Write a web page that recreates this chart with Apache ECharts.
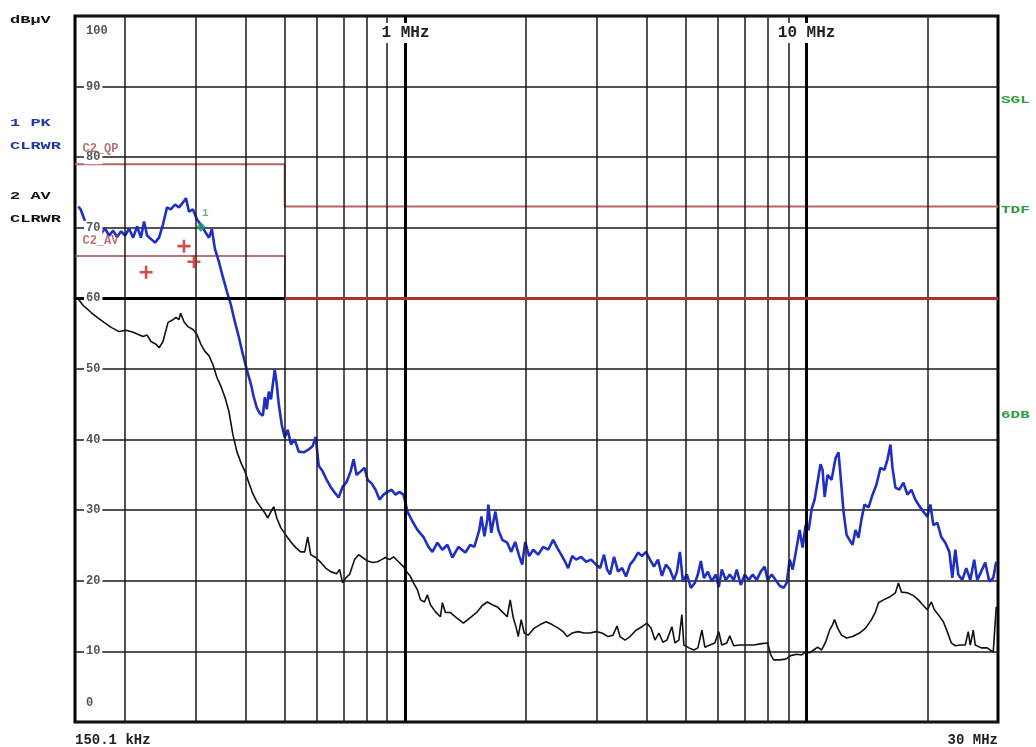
<!DOCTYPE html>
<html>
<head>
<meta charset="utf-8">
<script src="https://cdn.jsdelivr.net/npm/echarts@6/dist/echarts.min.js"></script>
<style>
html,body{margin:0;padding:0;background:#fff;}
#chart{width:1036px;height:747px;}
</style>
</head>
<body>
<div id="chart"></div>
<script>
// ---- data (frequency in MHz, level in dBµV) ----
const peakTrace = [[0.1528,73.0],[0.155,72.6],[0.159,70.9],[0.1627,70.1],[0.1665,69.5],[0.1703,70.4],[0.1743,69.2],[0.1783,69.9],[0.1824,68.9],[0.1867,69.6],[0.191,68.7],[0.1954,69.5],[0.2,68.9],[0.2046,69.9],[0.2094,68.6],[0.2143,70.2],[0.219,68.6],[0.223,70.9],[0.2269,68.9],[0.232,68.4],[0.2375,67.9],[0.243,68.6],[0.2486,70.5],[0.2544,72.9],[0.26,72.6],[0.2664,73.3],[0.2725,72.9],[0.2788,73.6],[0.2836,74.2],[0.2885,72.3],[0.2952,72.6],[0.302,71.2],[0.309,70.4],[0.3162,69.5],[0.3236,68.6],[0.3291,69.8],[0.3349,67.0],[0.3426,65.2],[0.3506,63.0],[0.3587,61.0],[0.367,59.1],[0.3755,56.7],[0.3843,54.5],[0.3931,52.1],[0.4022,49.9],[0.412,47.8],[0.4187,46.0],[0.426,44.5],[0.4334,43.7],[0.441,43.4],[0.4461,46.0],[0.4511,44.3],[0.4563,46.8],[0.462,45.7],[0.4669,47.8],[0.4722,49.9],[0.4777,47.8],[0.4832,45.0],[0.4915,42.1],[0.5,40.3],[0.5087,41.4],[0.518,39.3],[0.5295,40.0],[0.5418,38.3],[0.5576,38.2],[0.5738,38.6],[0.5871,39.1],[0.5972,40.4],[0.6076,36.3],[0.6216,35.5],[0.6361,34.3],[0.6507,33.3],[0.6659,32.5],[0.6812,31.8],[0.697,33.3],[0.7132,34.0],[0.7298,35.5],[0.7423,37.2],[0.7552,35.0],[0.773,35.5],[0.7907,36.0],[0.8045,34.3],[0.823,33.8],[0.8422,32.9],[0.8616,31.5],[0.8816,32.2],[0.902,32.6],[0.923,32.9],[0.9443,32.2],[0.9663,32.6],[0.9886,32.2],[1.0115,29.8],[1.041,28.4],[1.071,27.2],[1.109,26.2],[1.141,24.8],[1.167,24.1],[1.201,25.4],[1.236,24.4],[1.272,25.1],[1.309,23.3],[1.355,24.8],[1.41,24.0],[1.451,25.1],[1.484,24.8],[1.528,27.2],[1.546,29.1],[1.573,26.3],[1.6,28.7],[1.609,30.8],[1.636,26.8],[1.675,29.8],[1.704,27.2],[1.743,25.8],[1.793,25.4],[1.835,24.1],[1.877,25.5],[1.921,23.5],[1.954,22.3],[1.988,25.5],[2.034,23.5],[2.082,24.4],[2.142,23.7],[2.204,24.8],[2.268,24.4],[2.334,25.8],[2.388,24.7],[2.444,23.7],[2.5,22.7],[2.544,21.8],[2.603,23.5],[2.664,23.0],[2.741,23.4],[2.82,22.7],[2.902,23.0],[2.987,22.3],[3.056,21.8],[3.126,23.7],[3.181,21.6],[3.236,20.9],[3.311,23.4],[3.388,21.3],[3.467,21.8],[3.547,20.6],[3.629,22.3],[3.713,23.0],[3.799,24.0],[3.887,23.5],[3.977,24.1],[4.069,23.0],[4.164,22.0],[4.26,23.0],[4.358,20.7],[4.459,22.3],[4.563,21.6],[4.669,20.1],[4.75,21.3],[4.832,24.1],[4.916,19.9],[5.029,20.9],[5.146,19.0],[5.265,19.7],[5.357,20.9],[5.45,22.8],[5.545,20.4],[5.673,21.3],[5.804,19.9],[5.937,20.9],[6.04,19.1],[6.145,21.6],[6.287,20.1],[6.434,20.9],[6.582,20.1],[6.697,21.6],[6.852,19.4],[7.011,20.9],[7.172,20.1],[7.339,20.9],[7.508,20.1],[7.683,21.3],[7.86,22.0],[7.998,20.1],[8.183,20.9],[8.373,20.1],[8.567,19.3],[8.766,19.0],[8.918,19.7],[9.074,23.0],[9.23,21.6],[9.443,24.7],[9.608,27.2],[9.772,24.7],[9.943,27.9],[10.12,27.2],[10.29,30.1],[10.47,31.5],[10.65,34.0],[10.83,36.5],[10.96,35.7],[11.09,31.9],[11.28,35.0],[11.54,34.3],[11.81,37.4],[12.01,38.2],[12.22,33.2],[12.36,29.8],[12.58,26.5],[12.79,25.8],[13.02,25.1],[13.24,27.2],[13.47,26.1],[13.7,28.7],[13.94,30.8],[14.27,30.4],[14.6,32.2],[14.93,33.6],[15.28,36.0],[15.63,35.7],[15.91,37.2],[16.18,39.3],[16.37,36.0],[16.65,33.2],[17.03,32.9],[17.43,33.9],[17.83,32.2],[18.25,32.9],[18.67,31.5],[19.1,30.6],[19.54,29.8],[20.0,29.1],[20.35,30.8],[20.7,27.9],[21.18,28.2],[21.67,26.2],[22.17,25.4],[22.69,24.1],[23.08,20.4],[23.48,24.4],[23.88,20.9],[24.43,20.1],[25.0,21.8],[25.59,20.1],[26.17,23.0],[26.63,20.1],[27.24,21.3],[27.88,22.6],[28.53,19.9],[29.19,20.4],[29.7,22.7]];

const averageTrace = [[0.1528,59.9],[0.1572,59.0],[0.1646,58.0],[0.1713,57.2],[0.1773,56.6],[0.1846,55.9],[0.1932,55.3],[0.2012,55.5],[0.2094,55.2],[0.2217,54.6],[0.2269,54.8],[0.232,53.9],[0.2388,53.5],[0.243,53.0],[0.2486,53.9],[0.2559,56.6],[0.2618,56.9],[0.2679,57.3],[0.2725,57.0],[0.275,57.9],[0.2804,56.7],[0.2869,56.0],[0.2952,55.6],[0.302,54.9],[0.309,53.5],[0.3162,52.5],[0.3236,51.9],[0.3311,50.6],[0.3388,48.8],[0.347,47.5],[0.3547,46.0],[0.3629,44.0],[0.3713,40.7],[0.3799,38.3],[0.389,36.7],[0.3977,35.5],[0.4069,33.9],[0.4164,32.3],[0.426,31.2],[0.436,30.4],[0.4461,29.6],[0.4537,28.9],[0.462,29.8],[0.4695,30.5],[0.4777,28.9],[0.489,27.5],[0.5029,26.5],[0.518,25.5],[0.5326,24.7],[0.548,24.1],[0.5609,24.1],[0.5706,26.2],[0.5804,23.7],[0.5972,23.3],[0.615,22.6],[0.6324,21.8],[0.6507,21.3],[0.6736,21.0],[0.6852,21.6],[0.697,19.7],[0.7091,20.4],[0.7256,20.9],[0.7466,23.0],[0.764,23.7],[0.7816,23.3],[0.8045,22.8],[0.8278,22.6],[0.8517,22.7],[0.8716,23.0],[0.8917,23.3],[0.9124,23.0],[0.9335,23.4],[0.9607,22.7],[0.9886,22.0],[1.006,21.3],[1.029,20.6],[1.047,19.7],[1.071,18.7],[1.09,17.3],[1.115,17.0],[1.134,18.0],[1.154,16.6],[1.188,15.6],[1.222,14.9],[1.236,16.9],[1.257,15.5],[1.294,15.5],[1.339,14.8],[1.394,14.0],[1.451,14.8],[1.51,15.6],[1.554,16.5],[1.6,17.0],[1.646,16.6],[1.694,16.3],[1.743,15.6],[1.793,14.9],[1.824,17.3],[1.856,14.8],[1.889,13.3],[1.91,12.1],[1.943,14.5],[1.977,12.6],[2.023,12.3],[2.094,13.3],[2.167,13.8],[2.242,14.2],[2.321,13.8],[2.402,13.3],[2.472,12.8],[2.529,12.1],[2.603,12.6],[2.693,12.8],[2.788,12.6],[2.885,12.6],[2.987,12.8],[3.09,12.6],[3.199,12.1],[3.291,12.3],[3.368,13.6],[3.426,12.1],[3.526,11.6],[3.629,12.1],[3.755,13.0],[3.887,13.5],[4.0,14.0],[4.093,13.3],[4.188,11.6],[4.284,12.6],[4.383,11.3],[4.485,11.6],[4.615,13.5],[4.695,11.2],[4.804,11.6],[4.887,15.2],[4.943,10.9],[5.088,10.5],[5.236,10.2],[5.357,10.5],[5.482,13.0],[5.577,10.6],[5.739,10.9],[5.903,11.2],[6.04,12.8],[6.145,10.9],[6.324,11.2],[6.434,12.2],[6.582,10.8],[6.812,10.9],[7.091,10.9],[7.381,10.9],[7.727,11.1],[7.998,11.2],[8.137,9.5],[8.279,8.8],[8.567,8.8],[8.867,8.9],[9.125,9.4],[9.443,9.6],[9.719,9.5],[9.943,9.9],[10.17,9.8],[10.41,10.2],[10.65,10.6],[10.9,10.2],[11.15,11.3],[11.41,13.0],[11.61,13.8],[11.74,14.5],[11.95,13.3],[12.22,12.3],[12.58,11.9],[13.02,12.1],[13.55,12.6],[14.03,13.3],[14.51,14.5],[14.85,15.6],[15.11,16.9],[15.55,17.3],[16.09,17.7],[16.65,18.3],[16.94,19.7],[17.23,18.4],[17.83,18.3],[18.46,17.9],[18.99,17.3],[19.54,16.5],[20.0,15.9],[20.46,17.0],[20.82,15.9],[21.42,15.0],[21.92,14.2],[22.42,12.8],[22.95,11.2],[23.48,10.8],[24.16,10.9],[24.86,10.9],[25.29,12.8],[25.59,10.9],[26.03,13.0],[26.33,10.9],[27.24,10.5],[28.2,10.5],[29.19,9.9],[29.52,9.9],[29.7,16.3]];

const qpLimit = [[0.15,79],[0.5,79],[0.5,73],[30,73]];
const avLimit = [[0.15,66],[0.5,66],[0.5,60],[30,60]];
const displayLine = [[0.15,60],[0.5,60]];
const finalMarks = [[0.2256,63.7],[0.2804,67.4],[0.2969,65.2]];
const marker1 = [[0.309,70.1]];
const minorFreqs = [0.2,0.3,0.4,0.5,0.6,0.7,0.8,0.9,2,3,4,5,6,7,8,9,20];
const majorFreqs = [1,10];
const freqRange = [0.15,30];
const levelRange = [0,100];
const levelStep = 10;
const leftNotes = [['dBµV','#111',15],['1 PK','#233a9e',118],['CLRWR','#233a9e',141],['2 AV','#111',191],['CLRWR','#111',214]];
const rightNotes = [['SGL',95],['TDF',205],['6DB',410]];

const mono = '"Liberation Mono", "DejaVu Sans Mono", monospace';
const chart = echarts.init(document.getElementById('chart'), null, {renderer:'canvas'});

const vLines = minorFreqs.map(f => ({xAxis: f, lineStyle:{width:1.5, color:'#1a1a1a', type:'solid'}}))
  .concat(majorFreqs.map(f => ({xAxis: f, lineStyle:{width:3, color:'#000', type:'solid'}})));

const option = {
  animation: false,
  backgroundColor: '#fff',
  grid: {left:75, right:38, top:16, bottom:25, show:true, borderColor:'#000', borderWidth:3, backgroundColor:'#fff'},
  xAxis: [
    {type:'log', logBase:10, min:freqRange[0], max:freqRange[1], position:'bottom',
     axisLine:{show:false}, axisTick:{show:false}, splitLine:{show:false}, minorTick:{show:false},
     axisLabel:{show:true, showMinLabel:true, showMaxLabel:true, margin:11, alignMinLabel:'left', alignMaxLabel:'right',
       color:'#222', fontFamily:mono, fontWeight:'bold', fontSize:14,
       formatter: v => v < 0.16 ? '150.1 kHz' : (v > 29 ? '30 MHz' : '')}},
    {type:'log', logBase:10, min:freqRange[0], max:freqRange[1], position:'top', z:10,
     axisLine:{show:false}, axisTick:{show:false}, splitLine:{show:false},
     axisLabel:{show:true, inside:true, margin:7, color:'#222', fontFamily:mono, fontWeight:'bold', fontSize:16,
       backgroundColor:'#fff', padding:[2,3],
       showMinLabel:false, showMaxLabel:false,
       formatter: v => Math.abs(v-1)<1e-6 ? '1 MHz' : (Math.abs(v-10)<1e-5 ? '10 MHz' : '')}}
  ],
  yAxis: [
    {type:'value', position:'left', min:levelRange[0], max:levelRange[1], interval:levelStep,
     axisLine:{show:false}, axisTick:{show:false}, axisLabel:{show:false},
     splitLine:{show:true, lineStyle:{color:'#1a1a1a', width:1.5}}},
    {type:'value', position:'left', offset:0, min:levelRange[0], max:levelRange[1], interval:levelStep, z:10,
     axisLine:{show:false}, axisTick:{show:false}, splitLine:{show:false},
     axisLabel:{show:true, inside:true, margin:9, color:'#555', fontFamily:mono, fontWeight:'bold', fontSize:12,
       formatter: v => v===0 ? '{lo|0}' : (v===100 ? '{hi|100}' : '{n|' + v + '}'),
       rich:{
         n:{backgroundColor:'#fff', padding:[1,2], color:'#555', fontFamily:mono, fontWeight:'bold', fontSize:12},
         lo:{padding:[0,2,38,2], color:'#555', fontFamily:mono, fontWeight:'bold', fontSize:12},
         hi:{padding:[30,2,0,2], color:'#555', fontFamily:mono, fontWeight:'bold', fontSize:12}
       }}}
  ],
  series: [
    {name:'grid', type:'line', data:[], z:1, silent:true,
     markLine:{silent:true, symbol:['none','none'], label:{show:false}, animation:false,
       lineStyle:{type:'solid'},
       data: vLines.concat([[{coord:displayLine[0]},{coord:displayLine[1], lineStyle:{width:3, color:'#000', type:'solid'}}]])}},
    {name:'QP limit', type:'line', data:qpLimit, z:2, showSymbol:false, silent:true,
     lineStyle:{color:'#b86464', width:2}},
    {name:'AV limit', type:'line', data:avLimit, z:2, showSymbol:false, silent:true,
     lineStyle:{color:'#a04848', width:1.5},
     markLine:{silent:true, symbol:['none','none'], label:{show:false}, animation:false, lineStyle:{type:'solid'},
       data:[[{coord:avLimit[2]},{coord:avLimit[3], lineStyle:{width:3, color:'#a83434', type:'solid'}}]]}},
    {name:'AV', type:'line', data:averageTrace, z:3, showSymbol:false, silent:true,
     lineStyle:{color:'#111', width:1.6}},
    {name:'PK', type:'line', data:peakTrace, z:4, showSymbol:false, silent:true,
     lineStyle:{color:'#1f2fc4', width:2.6}},
    {name:'final', type:'scatter', data:finalMarks, z:6, silent:true,
     symbol:'path://M4,0H6V4H10V6H6V10H4V6H0V4H4Z', symbolSize:13,
     itemStyle:{color:'#c42222'}},
    {name:'marker', type:'scatter', data:marker1, z:6, silent:true,
     symbol:'diamond', symbolSize:10, itemStyle:{color:'#1c9a74'},
     label:{show:true, formatter:'1', position:[6,-14], color:'#3a9a6a', fontFamily:mono, fontSize:11, fontWeight:'bold'}},
    {name:'limit labels', type:'scatter', z:20, silent:true, symbolSize:1, itemStyle:{color:'rgba(0,0,0,0)'},
     data:[{value:qpLimit[0], label:{formatter:'C2_QP'}},{value:avLimit[0], label:{formatter:'C2_AV'}}],
     label:{show:true, position:[8,-21], color:'#a85050', fontFamily:mono, fontWeight:'bold', fontSize:12}}
  ],
  graphic: leftNotes.map(n => ({type:'text', left:10, top:n[2], scaleX:1.7, z:30,
      style:{text:n[0], fill:n[1], font:'bold 10px ' + mono}}))
    .concat(rightNotes.map(n => ({type:'text', left:1001, top:n[1], scaleX:1.6, z:30,
      style:{text:n[0], fill:'#2f9e3c', font:'bold 10px ' + mono}})))
};
chart.setOption(option);
</script>
</body>
</html>
